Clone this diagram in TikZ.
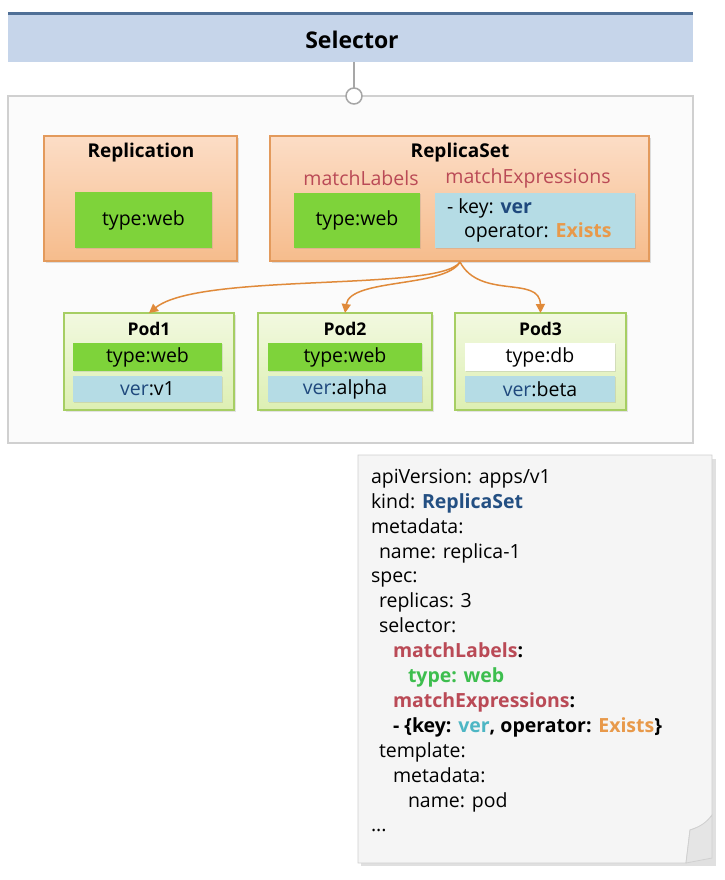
\documentclass[tikz,border=0pt]{standalone}
\usepackage{fontspec}
\setmainfont{Open Sans}
\usetikzlibrary{shadows,arrows.meta}
\definecolor{hdrfill}{HTML}{C6D5EA}
\definecolor{hdrline}{HTML}{4F6F96}
\definecolor{boxgray}{HTML}{D0D0D0}
\definecolor{orgtop}{HTML}{FCDDC6}
\definecolor{orgbot}{HTML}{F6BC8C}
\definecolor{orgline}{HTML}{E39A5C}
\definecolor{lgreen}{HTML}{7ED33A}
\definecolor{lblue}{HTML}{B5DCE5}
\definecolor{podtop}{HTML}{F2F9E0}
\definecolor{podbot}{HTML}{DDEFB3}
\definecolor{podline}{HTML}{A6CE63}
\definecolor{arrorg}{HTML}{E08A3A}
\definecolor{keyred}{HTML}{BA4A56}
\definecolor{navy}{HTML}{1F497D}
\definecolor{exorange}{HTML}{E8994A}
\definecolor{ygreen}{HTML}{3DBE4E}
\definecolor{yteal}{HTML}{4DB6C4}
\definecolor{ynavy}{HTML}{234F82}
\definecolor{notefill}{HTML}{F5F5F5}
\tikzset{
  every node/.style={inner sep=0pt, outer sep=0pt},
  body/.style={font=\fontsize{19.5}{22}\selectfont},
  orgbox/.style={draw=orgline, line width=1.2pt, top color=orgtop, bottom color=orgbot,
     drop shadow={opacity=0.25, shadow xshift=1.5pt, shadow yshift=-1.5pt}},
  greenbox/.style={body, fill=lgreen,
     drop shadow={opacity=0.2, shadow xshift=1pt, shadow yshift=-1pt}},
  bluebox/.style={body, fill=lblue,
     drop shadow={opacity=0.2, shadow xshift=1pt, shadow yshift=-1pt}},
  whitebox/.style={body, fill=white,
     drop shadow={opacity=0.2, shadow xshift=1pt, shadow yshift=-1pt}},
  podbox/.style={draw=podline, line width=1.2pt, top color=podtop, bottom color=podbot,
     minimum height=97pt, drop shadow={opacity=0.2, shadow xshift=1.5pt, shadow yshift=-1.5pt}},
  title/.style={font=\bfseries\fontsize{19}{22}\selectfont},
  podtitle/.style={font=\bfseries\fontsize{17.5}{20}\selectfont},
  mlabel/.style={body, text=keyred},
  arr/.style={draw=arrorg, line width=1.5pt, -{Triangle[length=9pt,width=9pt]}},
}
\begin{document}
\begin{tikzpicture}[x=1pt,y=-1pt]
\useasboundingbox (0,0) rectangle (724,880);
\fill[white] (0,0) rectangle (724,880);
% header
\node[fill=hdrfill, minimum width=685pt, minimum height=48pt, anchor=north west] (hdr) at (8,14) {};
\node[font=\bfseries\fontsize{23}{26}\selectfont] (hdrtext) at (352,40) {Selector};
\draw[hdrline, line width=3pt] (hdr.north west) -- (hdr.north east);
% container
\node[draw=boxgray, line width=2pt, fill=white!98.5!black, minimum width=685pt, minimum height=347pt,
      anchor=north west] (cont) at (8,96) {};
\node[draw=boxgray!80!black, line width=1.5pt, fill=white, circle, minimum size=16pt] (knob) at (354,96) {};
\draw[boxgray!80!black, line width=1.2pt] (hdr.south -| knob) -- (knob.north);
% Replication
\node[orgbox, minimum width=193pt, minimum height=125pt] (repl) at (140.5,198.5) {};
\node[title] (repltitle) at (141,153) {Replication};
\node[greenbox, minimum width=137pt, minimum height=56pt] (replg) at (143.5,220) {type:web};
% ReplicaSet
\node[orgbox, minimum width=379pt, minimum height=125pt] (rs) at (459.5,198.5) {};
\node[title] (rstitle) at (460,153) {ReplicaSet};
\node[mlabel] (ml) at (361,178) {matchLabels};
\node[mlabel] (me) at (528,178) {matchExpressions};
\node[greenbox, minimum width=126pt, minimum height=55pt] (rsg) at (357,220.5) {type:web};
\node[bluebox, minimum width=200pt, minimum height=55pt] (rsb) at (535,220.5) {};
\node[anchor=west, body] (k1) at (447,208) {- key: \textcolor{navy}{\bfseries ver}};
\node[anchor=west, body] (k2) at (464,232) {operator: \textcolor{exorange}{\bfseries Exists}};
\coordinate (src) at (460,262);
% Pods
\node[podbox, minimum width=170pt] (pod1) at (149,361.5) {};
\node[podbox, minimum width=174pt] (pod2) at (345,361.5) {};
\node[podbox, minimum width=171pt] (pod3) at (540.5,361.5) {};
\node[podtitle] (p1t) at (149,329) {Pod1};
\node[podtitle] (p2t) at (345,329) {Pod2};
\node[podtitle] (p3t) at (540.5,329) {Pod3};
\node[greenbox, minimum width=149pt, minimum height=28pt] (p1a) at (147.5,357) {type:web};
\node[greenbox, minimum width=154pt, minimum height=28pt] (p2a) at (345,357) {type:web};
\node[whitebox, minimum width=150pt, minimum height=28pt] (p3a) at (540,357) {type:db};
\node[bluebox, minimum width=149pt, minimum height=26pt] (p1b) at (147.5,389) {\textcolor{navy}{ver}:v1};
\node[bluebox, minimum width=154pt, minimum height=26pt] (p2b) at (345,389) {\textcolor{navy}{ver}:alpha};
\node[bluebox, minimum width=150pt, minimum height=26pt] (p3b) at (540,389) {\textcolor{navy}{ver}:beta};
% arrows
\draw[arr] (src) .. controls (440,292) and (200,272) .. (pod1.north -| p1t);
\draw[arr] (src) .. controls (445,288) and (350,278) .. (pod2.north -| p2t);
\draw[arr] (src) .. controls (480,300) and (540,275) .. (pod3.north -| p3t);
% note
\fill[black, opacity=0.12] (361,459) -- (716,459) -- (716,866) -- (361,866) -- cycle;
\draw[boxgray, line width=0.8pt, fill=notefill] (358,455) -- (712,455) -- (712,815)
   .. controls (705,826) and (695,828) .. (690,830) -- (686,863) -- (358,863) -- cycle;
\draw[boxgray, line width=0.8pt, fill=white!90!black] (690,830) .. controls (700,827) and (707,822) .. (712,815)
   -- (712,858) -- (686,863) -- cycle;
\node[anchor=north west, align=left, font=\fontsize{19.5}{24.9}\selectfont] (code) at (371,469) {%
apiVersion: apps/v1\\
kind: \textcolor{ynavy}{\bfseries ReplicaSet}\\
metadata:\\
\hspace*{8pt}name: replica-1\\
spec:\\
\hspace*{8pt}replicas: 3\\
\hspace*{8pt}selector:\\
\hspace*{22pt}\textcolor{keyred}{\bfseries matchLabels}\textbf{:}\\
\hspace*{37pt}\textcolor{ygreen}{\bfseries type: web}\\
\hspace*{22pt}\textcolor{keyred}{\bfseries matchExpressions}\textbf{:}\\
\hspace*{22pt}\textbf{- \{key: \textcolor{yteal}{ver}, operator: \textcolor{exorange}{Exists}\}}\\
\hspace*{8pt}template:\\
\hspace*{22pt}metadata:\\
\hspace*{37pt}name: pod\\
...};
\end{tikzpicture}
\end{document}
